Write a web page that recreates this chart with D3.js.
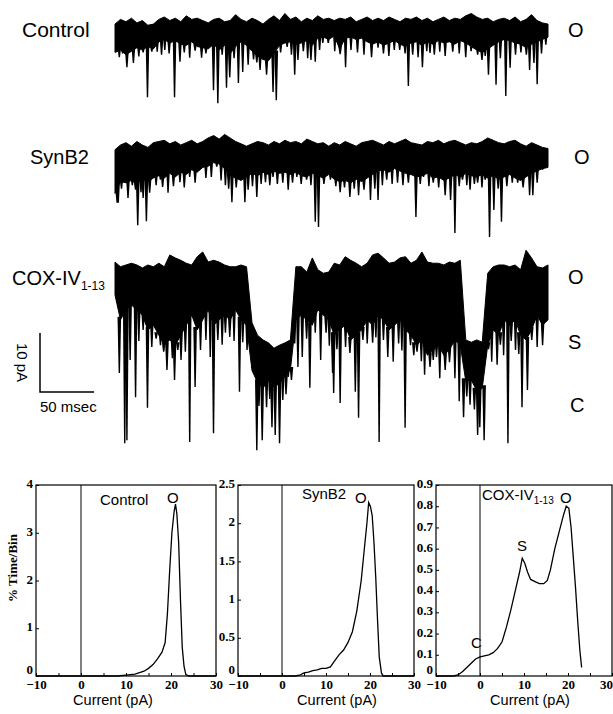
<!DOCTYPE html>
<html>
<head>
<meta charset="utf-8">
<script src="https://cdn.jsdelivr.net/npm/d3@7"></script>
<style>
  body { margin: 0; background: #fff; }
  svg { display: block; }
</style>
</head>
<body>
<div id="chart"></div>
<script>
// ---------- single channel recordings: current (pA) in 5 ms bins over 400 ms ----------
// top = upper edge of the open-channel noise band, bottom = lower edge of the dense band
const controlTop = [22.0,22.8,22.4,23.0,22.2,22.6,21.8,22.0, 22.8,23.2,22.6,23.0,22.4,23.4,22.8,23.0,
  22.6,22.2,22.8,23.0,22.4,22.6,23.6,22.8, 22.4,23.0,22.6,22.0,22.8,23.4,22.6,23.8,
  22.8,23.2,22.4,23.0,22.6,23.4,22.8,23.0, 22.6,23.0,22.8,23.2,22.4,22.8,23.2,22.6,
  23.0,22.6,23.2,22.8,22.4,23.0,22.8,23.2, 22.6,23.0,22.4,22.8,23.2,22.6,23.0,22.8,
  23.4,23.8,23.2,22.8,23.0,22.4,22.8,23.0, 22.6,23.2,22.4,22.8,23.6,22.6,22.2,22.0];
const controlBottom = [17.2,17.6,16.8,17.4,18.0,17.6,18.2,17.8, 19.0,19.4,18.8,19.2,18.6,18.4,19.0,18.2,
  18.0,17.8,18.6,17.6,18.4,17.0,18.2,19.0, 18.4,17.4,16.6,16.0,15.8,17.0,18.4,18.8,
  19.0,18.6,18.8,19.2,18.4,19.6,19.8,19.4, 20.0,17.8,19.6,19.8,19.4,19.6,19.0,18.6,
  19.0,18.4,18.8,19.2,18.6,18.2,18.8,19.0, 18.4,19.0,18.6,19.2,18.8,19.0,18.6,19.2,
  18.8,18.2,17.6,17.2,17.8,18.4,19.0,19.4, 19.2,18.8,18.6,18.0,18.6,19.0,19.4,19.8];
// brief closures: [time ms, current pA]
const controlSpikes = [[4,16.4],[7,17.0],[11,14.7],[17,15.4],[22,16.5],[26,17.2],[30,9.6],[34,17.3],
  [39,17.3],[43,16.8],[46,17.6],[50,17.0],[55,9.6],[60,15.6],[64,17.2],[69,16.3],[74,17.5],[80,16.3],
  [84,17.0],[88,18.8],[91,10.8],[95,8.6],[99,16.8],[103,11.2],[106,13.0],[110,16.2],[114,12.0],
  [118,13.9],[123,15.1],[128,16.0],[131,15.5],[134,14.2],[140,13.4],[146,10.5],[149,9.1],[153,17.2],
  [159,18.1],[163,16.8],[166,13.4],[169,15.9],[174,17.4],[178,16.2],[181,15.9],[185,15.6],[189,17.6],
  [192,18.8],[197,18.8],[203,17.4],[208,16.9],[213,14.7],[218,17.6],[224,17.2],[230,16.8],[237,16.4],
  [243,18.0],[248,17.0],[253,16.6],[258,17.6],[263,17.6],[268,17.0],[271,11.5],[275,16.8],[280,16.4],
  [284,14.7],[288,17.4],[291,17.1],[295,16.8],[300,17.3],[305,16.6],[312,17.3],[318,17.0],[324,16.4],
  [329,17.4],[335,16.8],[339,15.9],[342,16.6],[345,13.4],[352,11.7],[356,16.2],[361,9.8],[365,14.6],
  [370,16.8],[375,17.2],[380,16.8],[383,14.2],[387,15.4],[390,11.8],[394,17.0],[398,18.5]];

const synTop = [22.4,23.2,23.6,23.0,23.8,23.2,22.8,23.6, 23.8,24.0,23.4,23.8,23.2,23.6,24.0,23.4,
  23.8,24.4,24.8,24.2,25.0,24.4,23.8,23.4, 23.0,23.4,23.8,23.6,23.2,23.8,23.4,24.0,
  23.6,23.8,23.4,24.2,23.8,23.4,23.6,23.0, 23.6,23.2,23.8,23.4,23.0,23.6,23.8,24.0,
  23.6,23.2,23.8,23.4,23.8,24.2,23.6,23.4, 23.2,23.8,23.6,24.0,23.4,23.8,24.0,23.6,
  23.2,23.6,23.4,23.8,24.4,24.0,23.6,23.4, 23.8,24.0,23.4,23.0,23.6,23.2,22.8,22.6];
const synBottom = [15.0,17.0,16.8,17.2,16.6,17.4,17.0,17.6, 18.0,17.6,18.4,17.8,18.6,18.2,19.0,18.6,
  19.4,19.6,20.2,20.0,19.2,18.0,17.6,17.2, 17.8,18.4,18.0,18.6,18.2,18.8,18.4,18.6,
  18.2,18.6,18.0,17.8,18.4,18.0,17.6,18.2, 17.4,17.0,17.2,16.8,17.4,17.0,17.6,18.2,
  18.8,19.0,18.6,19.2,18.8,18.4,18.2,17.8, 18.0,18.4,17.6,17.8,17.2,17.6,18.2,17.8,
  18.4,18.0,17.8,18.2,17.6,18.0,17.4,17.8, 18.2,17.6,17.2,17.8,18.4,18.8,19.2,19.4];
const synSpikes = [[2,13.4],[3,13.4],[6,15.8],[9,16.8],[12,14.2],[16,16.4],[19,15.6],[21,9.6],[24,15.2],
  [26,14.2],[29,10.3],[32,15.1],[35,18.6],[38,16.4],[42,17.3],[44,16.1],[49,15.1],[54,16.2],[60,16.9],
  [64,16.0],[69,17.8],[74,16.8],[79,19.3],[84,17.6],[89,17.8],[94,19.5],[98,17.2],[102,16.4],
  [105,15.8],[108,13.5],[112,16.0],[116,18.6],[120,13.5],[123,15.6],[127,16.2],[131,14.4],[135,16.6],
  [139,16.9],[143,16.4],[146,17.8],[150,16.6],[155,16.8],[160,15.6],[164,16.8],[168,17.8],[172,16.6],
  [177,17.3],[181,16.4],[185,10.2],[188,9.3],[193,16.6],[199,17.3],[204,16.2],[208,15.2],[212,16.0],
  [217,14.4],[221,15.8],[225,14.7],[230,15.6],[236,13.9],[240,15.8],[243,13.9],[247,16.4],[251,17.3],
  [256,16.6],[261,16.8],[266,16.4],[271,16.8],[278,11.0],[282,16.6],[285,17.8],[290,16.2],[294,16.8],
  [299,16.0],[305,14.7],[310,13.9],[314,8.3],[318,16.2],[321,17.3],[325,16.4],[328,15.6],[332,16.6],
  [335,16.8],[339,16.0],[342,17.3],[346,7.6],[350,12.2],[354,15.8],[357,10.2],[362,16.2],[367,16.8],
  [372,16.8],[377,16.0],[383,14.7],[386,14.7],[390,16.8],[395,19.0]];

const coxTop = [25.4,24.6,24.9,25.2,24.9,24.4,24.9,24.6, 25.2,24.6,26.6,26.1,25.7,25.2,24.9,26.3,
  27.1,25.4,25.7,25.4,24.9,24.6,24.6,24.9, 24.6,15.1,13.0,12.2,11.7,10.8,11.3,11.7,
  12.2,24.6,24.6,23.7,26.1,24.1,23.5,23.7, 25.2,24.9,26.3,25.7,25.2,24.6,25.2,26.6,
  26.9,26.1,25.2,25.4,26.1,26.3,25.2,25.7, 27.1,25.4,25.2,25.2,24.9,25.4,25.2,25.7,
  12.2,11.8,12.2,11.8,23.5,24.6,24.9,24.9, 24.6,24.9,24.1,27.4,26.1,24.6,24.4,24.9];
const coxBottom = [19.8,15.6,17.3,18.1,17.3,16.4,13.9,14.7, 13.0,11.3,12.2,11.3,13.0,14.7,16.4,13.9,
  15.6,17.3,14.7,15.6,16.4,15.6,17.3,15.6, 14.7,7.0,5.0,4.0,5.4,4.2,4.8,6.0,
  7.1,15.6,16.4,15.6,14.7,17.3,16.4,15.6, 13.0,13.9,14.7,12.2,13.0,13.9,15.6,14.7,
  16.4,15.6,13.9,14.7,15.6,13.9,13.0,11.3, 12.2,9.6,10.5,11.3,9.6,10.5,12.2,11.3,
  5.2,5.4,3.6,4.0,11.3,13.9,13.0,15.6, 14.7,15.6,13.0,12.2,13.9,16.4,14.7,15.6];
const coxSpikes = [[4,6.6],[9,-5.3],[11,-4.8],[14,8.8],[19,2.5],[22,12.0],[26,13.9],[30,0.7],[34,11.0],
  [38,12.4],[42,11.3],[45,10.2],[48,7.1],[53,9.1],[55,5.4],[58,10.5],[61,8.8],[65,10.2],[69,-5.1],
  [74,4.2],[79,10.5],[84,12.2],[88,9.3],[91,-3.6],[95,12.2],[99,11.4],[102,13.4],[106,12.7],
  [110,12.0],[115,3.4],[118,11.8],[122,10.5],[127,8.0],
  [131,-6.5],[133,1.0],[136,-4.8],[140,0.8],[143,2.2],[145,-2.6],[148,-3.9],[152,-5.3],[155,2.0],
  [158,3.0],[160,5.9],[163,5.4],
  [166,11.6],[169,7.6],[173,9.3],[177,12.4],[180,4.1],[185,13.4],[190,8.8],[195,13.4],[198,11.2],
  [201,6.6],[202,3.2],[205,10.6],[208,1.5],[213,11.0],[217,10.0],[222,3.4],[225,-1.0],[229,12.2],
  [233,11.6],[238,11.7],[241,12.6],[244,-5.1],[248,12.2],[252,9.3],[257,8.5],[262,11.6],[265,10.4],
  [268,-2.7],[273,11.3],[276,9.6],[279,10.2],[283,8.6],[286,6.3],[291,7.6],[294,8.8],[297,9.3],
  [300,5.7],[305,7.1],[309,8.4],[314,5.7],
  [318,1.8],[322,-0.9],[325,2.6],[328,1.2],[332,0.4],[335,-3.9],[337,-2.6],[341,-4.8],
  [345,10.6],[348,8.5],[353,8.0],[356,11.4],[359,9.6],[363,-5.3],[366,12.0],[370,10.5],[373,9.8],
  [376,0.8],[381,3.7],[385,12.2],[390,11.0],[395,11.3]];

// ---------- all-points amplitude histograms: [current pA, % time/bin] ----------
const controlHist = [[-10,0],[8,0],[10,0.02],[12,0.04],[13,0.07],[14,0.1],[15,0.16],[16,0.24],
  [17,0.36],[18,0.5],[18.7,0.7],[19.2,1.3],[19.7,2.2],[20.2,3.0],[20.7,3.45],[21,3.6],[21.3,3.4],
  [21.7,2.8],[22.1,1.6],[22.5,0.6],[22.9,0.2],[23.3,0.03],[24,0],[30,0]];
const synHist = [[-10,0],[3,0],[4,0.01],[5,0.04],[6,0.05],[7,0.07],[8,0.08],[9,0.1],[10,0.1],[11,0.12],
  [12,0.2],[13,0.28],[14,0.34],[15,0.44],[16,0.58],[17,0.85],[18,1.25],[18.6,1.6],[19.3,2.0],
  [19.7,2.27],[20.1,2.22],[20.5,2.1],[20.9,1.75],[21.3,1.3],[21.7,0.75],[22.1,0.25],[22.6,0.04],[23,0],[30,0]];
const coxHist = [[-10,0],[-6,0],[-5,0.005],[-4,0.02],[-3,0.04],[-2,0.06],[-1,0.08],[0,0.09],[1,0.095],
  [2,0.1],[3,0.11],[4,0.13],[5,0.16],[6,0.23],[7,0.31],[8,0.4],[9,0.49],[9.6,0.555],[10.2,0.53],
  [10.8,0.49],[11.5,0.455],[12.5,0.445],[13.5,0.435],[14.5,0.435],[15.3,0.45],[16,0.5],[17,0.6],
  [18,0.68],[19,0.76],[19.6,0.8],[20.2,0.79],[20.7,0.7],[21.2,0.56],[21.7,0.42],[22.2,0.26],
  [22.7,0.12],[23.1,0.04]];

const xTickValues = [-10, -5, 0, 5, 10, 15, 20, 25, 30];
const yTicksControl = [0, 1, 2, 3, 4];
const yTicksSyn = [0, 0.5, 1, 1.5, 2, 2.5];
const yTicksCox = [0, 0.1, 0.2, 0.3, 0.4, 0.5, 0.6, 0.7, 0.8, 0.9];

const width = 613, height = 714;
const svg = d3.select("#chart").append("svg")
  .attr("width", width).attr("height", height);

const sans = "'Liberation Sans', Arial, sans-serif";
const serif = "'Liberation Serif', 'Times New Roman', serif";

// ---------- traces ----------
const binMs = 400 / 79;
const xT = d3.scaleLinear().domain([0, 400]).range([115, 548]);
const pxPerPA = 5.9;

function drawTrace(top, bottom, spikes, yOpen) {
  // yOpen: pixel row of the 21 pA open level
  const y = d3.scaleLinear().domain([0, 21]).range([yOpen + 21 * pxPerPA, yOpen]);
  const g = svg.append("g");
  const area = d3.area()
    .x((d, i) => xT(i * binMs))
    .y0((d, i) => y(bottom[i]))
    .y1(d => y(d));
  g.append("path").datum(top)
    .attr("d", area)
    .attr("fill", "#000").attr("stroke", "#000").attr("stroke-width", 1);
  // closures drawn as narrow wedges hanging from the noise band
  g.selectAll("path.spike").data(spikes).enter().append("path")
    .attr("class", "spike")
    .attr("d", d => {
      const x = xT(d[0]);
      const yb = y(bottom[Math.min(79, Math.round(d[0] / binMs))]) - 3;
      const yd = y(d[1]);
      return `M${x - 1.8},${yb}L${x - 0.7},${yd}L${x + 0.7},${yd}L${x + 1.8},${yb}Z`;
    })
    .attr("fill", "#000");
  return y;
}

drawTrace(controlTop, controlBottom, controlSpikes, 30);
drawTrace(synTop, synBottom, synSpikes, 158);
const yCox = drawTrace(coxTop, coxBottom, coxSpikes, 288);

function label(x, y, txt, size, anchor) {
  return svg.append("text").attr("x", x).attr("y", y)
    .attr("font-family", sans).attr("font-size", size)
    .attr("text-anchor", anchor || "start").text(txt);
}
label(22, 37, "Control", 21);
label(30, 164, "SynB2", 20);
const coxLbl = label(12, 285, "COX-IV", 20);
coxLbl.append("tspan").attr("dy", 5).attr("font-size", 12).text("1-13");
label(568, 37, "O", 20);
label(574, 164, "O", 20);
label(568, 284, "O", 20);
label(568, 349, "S", 20);
label(570, 412, "C", 20);

// scale bar: 10 pA by 50 msec
const barX = 40, barY = 392;
const barH = yCox(0) - yCox(10);
const barW = xT(50) - xT(0);
svg.append("path")
  .attr("d", `M${barX},${barY - barH}V${barY}H${barX + barW}`)
  .attr("fill", "none").attr("stroke", "#000").attr("stroke-width", 1.5);
svg.append("text")
  .attr("transform", `translate(17,${barY - barH / 2}) rotate(90)`)
  .attr("text-anchor", "middle").attr("font-family", sans).attr("font-size", 15)
  .text("10 pA");
label(barX, barY + 20, "50 msec", 15);

// ---------- histograms ----------
const histTop = 485, histBottom = 676;
const panels = [
  { data: controlHist, x0: 36, x1: 216, yTicks: yTicksControl, fmt: d3.format("d"), xLabel: 113 },
  { data: synHist, x0: 238, x1: 414, yTicks: yTicksSyn, fmt: d => String(d), xLabel: 337 },
  { data: coxHist, x0: 436, x1: 612, yTicks: yTicksCox, fmt: d => String(d), xLabel: 530 }
];

panels.forEach((p, k) => {
  const x = d3.scaleLinear().domain([-10, 30]).range([p.x0, p.x1]);
  const y = d3.scaleLinear().domain([0, d3.max(p.yTicks)]).range([histBottom, histTop]);
  const g = svg.append("g");

  const xAxis = d3.axisBottom(x).tickValues(xTickValues).tickSize(-3).tickPadding(4)
    .tickFormat(d => d % 10 === 0 ? (d < 0 ? "\u2212" + Math.abs(d) : d) : "");
  const xg = g.append("g").attr("transform", `translate(0,${histBottom})`).call(xAxis);
  const yAxis = d3.axisLeft(y).tickValues(p.yTicks).tickSize(-3).tickPadding(5).tickFormat(p.fmt);
  const yg = g.append("g").attr("transform", `translate(${p.x0},0)`).call(yAxis);
  [xg, yg].forEach(a => {
    a.select(".domain").remove();
    a.selectAll("text").attr("font-family", serif).attr("font-weight", "bold")
      .attr("font-size", 13).attr("fill", "#000");
    a.selectAll("line").attr("stroke", "#000");
  });
  yg.selectAll("text").attr("dx", 2).attr("dy", "0.2em");
  yg.selectAll(".tick text").filter(d => d === 0).attr("dy", "-0.2em");
  // last label of the right-hand panel sits at the page edge
  if (k === 2) xg.selectAll(".tick text").filter(d => d === 30).attr("dx", -6);

  // frame and zero-current line
  g.append("rect").attr("x", p.x0).attr("y", histTop)
    .attr("width", p.x1 - p.x0).attr("height", histBottom - histTop)
    .attr("fill", "none").attr("stroke", "#000").attr("stroke-width", 1.2);
  g.append("line").attr("x1", x(0)).attr("x2", x(0))
    .attr("y1", histTop).attr("y2", histBottom)
    .attr("stroke", "#000").attr("stroke-width", 1);

  g.append("path").datum(p.data)
    .attr("d", d3.line().x(d => x(d[0])).y(d => y(d[1])))
    .attr("fill", "none").attr("stroke", "#000").attr("stroke-width", 1.3);

  g.append("text").attr("x", p.xLabel).attr("y", 705)
    .attr("text-anchor", "middle").attr("font-family", sans).attr("font-size", 14.5)
    .text("Current (pA)");
});

svg.append("text")
  .attr("transform", `translate(17,568) rotate(-90)`)
  .attr("text-anchor", "middle").attr("font-family", serif).attr("font-weight", "bold")
  .attr("font-size", 13).text("% Time/Bin");

// annotations inside the histograms
label(100, 505, "Control", 15);
label(167, 503, "O", 15);
label(302, 499, "SynB2", 15);
label(355, 503, "O", 15);
const coxH = label(482, 500, "COX-IV", 15);
coxH.append("tspan").attr("dy", 4).attr("font-size", 10).text("1-13");
label(560, 503, "O", 15);
label(517, 551, "S", 15);
label(471, 648, "C", 15);
</script>
</body>
</html>
